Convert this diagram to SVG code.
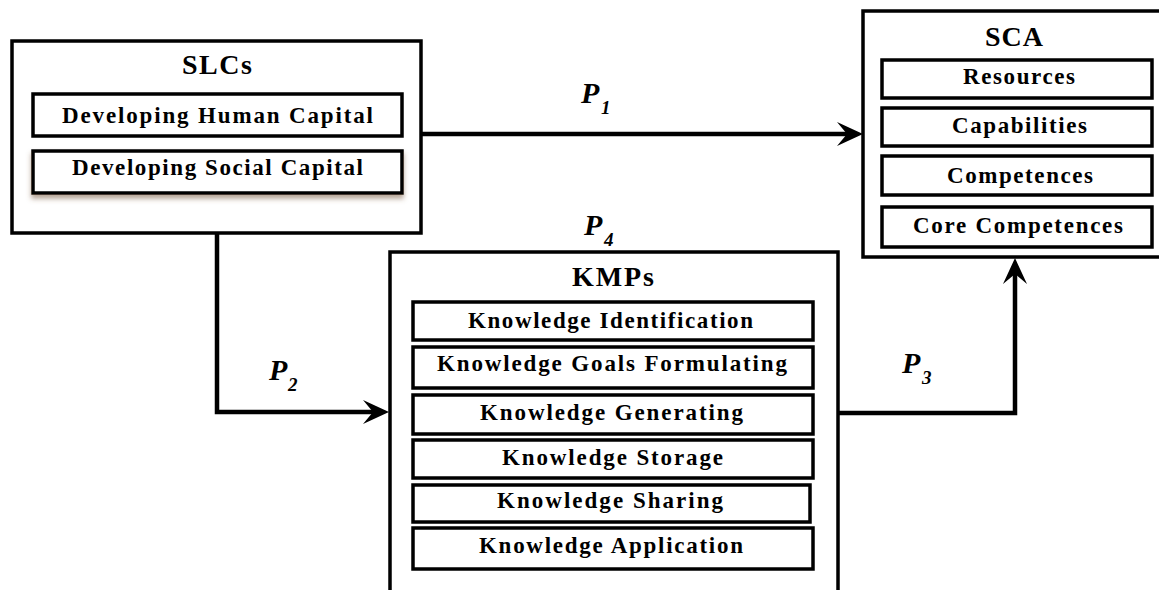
<svg xmlns="http://www.w3.org/2000/svg" width="1159" height="590" viewBox="0 0 1159 590">
<defs>
<style>
.outer{fill:#fff;stroke:#000;stroke-width:3.5}
.inner{fill:#fff;stroke:#000;stroke-width:3.5}
.title{font-family:"Liberation Serif","Times New Roman",serif;font-weight:bold;font-size:28px;fill:#000;text-anchor:middle}
.item{font-family:"Liberation Serif","Times New Roman",serif;font-weight:bold;font-size:23px;fill:#000;text-anchor:middle}
.conn{fill:none;stroke:#000;stroke-width:4.5}
.plab{font-family:"Liberation Serif","Times New Roman",serif;font-weight:bold;font-style:italic;font-size:30px;fill:#000}
.psub{font-size:19px}
</style>
<marker id="arr" markerUnits="userSpaceOnUse" viewBox="-27 -13 28 26" markerWidth="28" markerHeight="26" refX="-10" refY="0" orient="auto">
<path d="M0,0 L-26,-12 L-16,0 L-26,12 Z" fill="#000"/>
</marker>
<filter id="shadow" x="-5%" y="-30%" width="110%" height="180%">
<feGaussianBlur in="SourceAlpha" stdDeviation="2.5"/>
<feOffset dx="0" dy="4" result="b"/>
<feFlood flood-color="#7a5a40" flood-opacity="0.55"/>
<feComposite in2="b" operator="in"/>
<feMerge><feMergeNode/><feMergeNode in="SourceGraphic"/></feMerge>
</filter>
</defs>
<rect width="1159" height="590" fill="#fff"/>

<g id="connectors">
<path class="conn" d="M421,134 H853" marker-end="url(#arr)"/>
<path class="conn" d="M217,233 V412 H379" marker-end="url(#arr)"/>
<path class="conn" d="M838,413 H1015 V268" marker-end="url(#arr)"/>
<text class="plab" x="581" y="103">P<tspan class="psub" x="601" y="114">1</tspan></text>
<text class="plab" x="584" y="235">P<tspan class="psub" x="604" y="246">4</tspan></text>
<text class="plab" x="269" y="380">P<tspan class="psub" x="288" y="391">2</tspan></text>
<text class="plab" x="902" y="373">P<tspan class="psub" x="922" y="384">3</tspan></text>
</g>

<g id="slcs">
<rect class="outer" x="12" y="41" width="409" height="192"/>
<text class="title" x="217" y="74" textLength="70" lengthAdjust="spacing">SLCs</text>
<g id="slcs-human">
<rect class="inner" x="33" y="94" width="369" height="42"/>
<text class="item" x="217.5" y="123" textLength="311" lengthAdjust="spacing">Developing Human Capital</text>
</g>
<g id="slcs-social">
<rect class="inner" x="33" y="151" width="369" height="42" filter="url(#shadow)"/>
<text class="item" x="217.5" y="175" textLength="291" lengthAdjust="spacing">Developing Social Capital</text>
</g>
</g>

<g id="sca">
<rect class="outer" x="863" y="11" width="310" height="246"/>
<text class="title" x="1014" y="46" textLength="58" lengthAdjust="spacing">SCA</text>
<g id="sca-resources">
<rect class="inner" x="882" y="60" width="270" height="38"/>
<text class="item" x="1019" y="84" textLength="112" lengthAdjust="spacing">Resources</text>
</g>
<g id="sca-capabilities">
<rect class="inner" x="882" y="108" width="270" height="38"/>
<text class="item" x="1019.5" y="133" textLength="135" lengthAdjust="spacing">Capabilities</text>
</g>
<g id="sca-competences">
<rect class="inner" x="882" y="156" width="270" height="39"/>
<text class="item" x="1020" y="183" textLength="146" lengthAdjust="spacing">Competences</text>
</g>
<g id="sca-core">
<rect class="inner" x="882" y="207" width="270" height="40"/>
<text class="item" x="1018" y="233" textLength="210" lengthAdjust="spacing">Core Competences</text>
</g>
</g>

<g id="kmps">
<rect class="outer" x="390" y="252" width="448" height="350"/>
<text class="title" x="613" y="286" font-size="29" textLength="82" lengthAdjust="spacing">KMPs</text>
<g id="kmps-identification">
<rect class="inner" x="413" y="302" width="400" height="38"/>
<text class="item" x="610.5" y="328" font-size="24" textLength="285" lengthAdjust="spacing">Knowledge Identification</text>
</g>
<g id="kmps-goals">
<rect class="inner" x="413" y="347" width="400" height="41"/>
<text class="item" x="612" y="371" font-size="24" textLength="350" lengthAdjust="spacing">Knowledge Goals Formulating</text>
</g>
<g id="kmps-generating">
<rect class="inner" x="413" y="395" width="400" height="39"/>
<text class="item" x="611.5" y="420" font-size="24" textLength="263" lengthAdjust="spacing">Knowledge Generating</text>
</g>
<g id="kmps-storage">
<rect class="inner" x="413" y="440" width="400" height="38"/>
<text class="item" x="612.5" y="465" font-size="24" textLength="221" lengthAdjust="spacing">Knowledge Storage</text>
</g>
<g id="kmps-sharing">
<rect class="inner" x="413" y="485" width="397" height="37"/>
<text class="item" x="610" y="508" font-size="24" textLength="226" lengthAdjust="spacing">Knowledge Sharing</text>
</g>
<g id="kmps-application">
<rect class="inner" x="413" y="528" width="400" height="41"/>
<text class="item" x="611" y="553" font-size="24" textLength="264" lengthAdjust="spacing">Knowledge Application</text>
</g>
</g>
</svg>
